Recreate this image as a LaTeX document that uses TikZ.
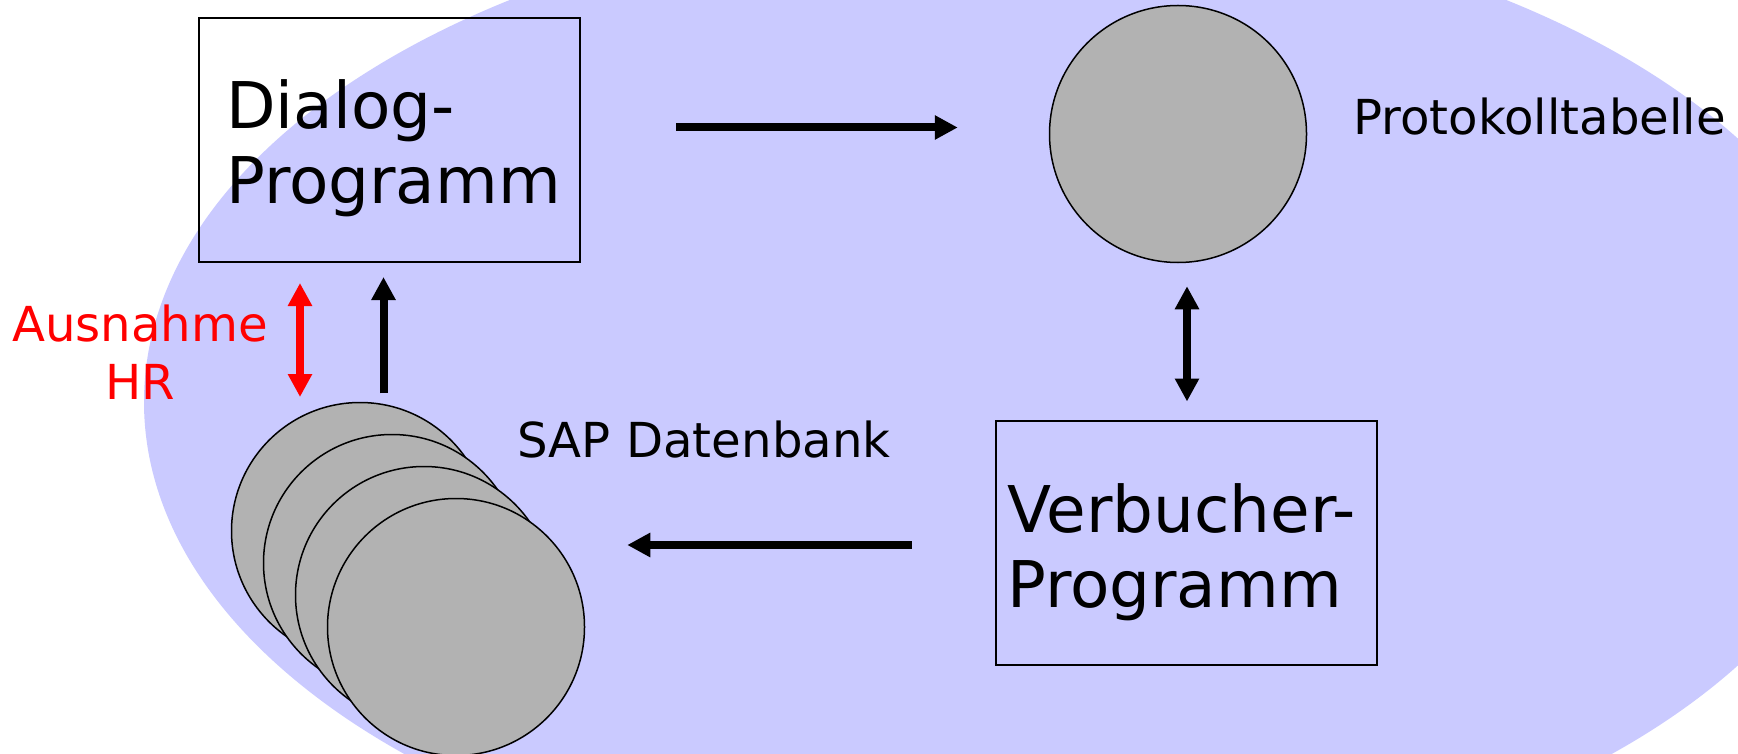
\documentclass[tikz,border=0pt]{standalone}
\usepackage{fontspec}
\setmainfont{DejaVu Sans}
\usetikzlibrary{arrows.meta,calc}
\definecolor{lav}{RGB}{202,202,255}
\definecolor{dbgray}{RGB}{178,178,178}
\definecolor{hrred}{RGB}{255,0,0}
\begin{document}
\begin{tikzpicture}[x=0.5pt,y=-0.5pt,
  box/.style={draw,line width=1pt,minimum width=190.5pt,minimum height=122pt,inner sep=0pt},
  disk/.style={circle,draw,line width=0.75pt,fill=dbgray,minimum size=128.5pt,inner sep=0pt},
  bigtxt/.style={font=\fontsize{32.2pt}{37.5pt}\selectfont,text width=200pt,align=left,inner sep=0pt,anchor=base west},
  smalltxt/.style={font=\fontsize{24.1pt}{29pt}\selectfont,inner sep=0pt,anchor=base west},
  flow/.style={line width=4pt,-{Triangle[length=11.5pt,width=11.5pt]}},
  both/.style={line width=4pt,{Triangle[length=11.5pt,width=11.5pt]}-{Triangle[length=11.5pt,width=11.5pt]}},
]
\fill[white] (0,0) rectangle (1738,754);
\useasboundingbox (0,0) rectangle (1738,754);
\begin{scope}
  \clip (0,0) rectangle (1738,754);
  \fill[lav] (1008,402) ellipse [x radius=432pt, y radius=246pt];
\end{scope}

\node[box] (dialog) at (389.5,140) {};
\node[bigtxt] (dialogtxt) at (226,129) {Dialog-\\Programm};
\node[disk] (proto) at (1178,134) {};
\node[smalltxt] (protolbl) at (1353,135) {Protokolltabelle};
\node[box] (verb) at (1186,543) {};
\node[bigtxt] (verbtxt) at (1007,532) {Verbucher-\\Programm};
\node[disk] (db1) at (360,531) {};
\node[disk] (db2) at (392,563) {};
\node[disk] (db3) at (424,595) {};
\node[disk] (db4) at (456,627) {};
\node[smalltxt] (dblbl) at (517,457) {SAP Datenbank};
\node[smalltxt,text=hrred,text width=130pt,align=center,anchor=base] (hr) at (140,341) {Ausnahme\\HR};

\draw[flow] ([shift={(95,-12.5)}]dialog.east) -- ([shift={(-91,-6.5)}]proto.west);
\draw[both] ([shift={(9,23)}]proto.south) -- ([shift={(1,-18.5)}]verb.north);
\draw[flow] ([shift={(-83,2)}]verb.west) -- ([shift={(42,-82)}]db4.east);
\draw[flow] ([shift={(23.5,-8.5)}]db1.north) -- ([shift={(-6,14)}]dialog.south);
\draw[both,color=hrred] ([shift={(-89.5,20)}]dialog.south) -- ([shift={(-60,-4.75)}]db1.north);
\end{tikzpicture}
\end{document}
